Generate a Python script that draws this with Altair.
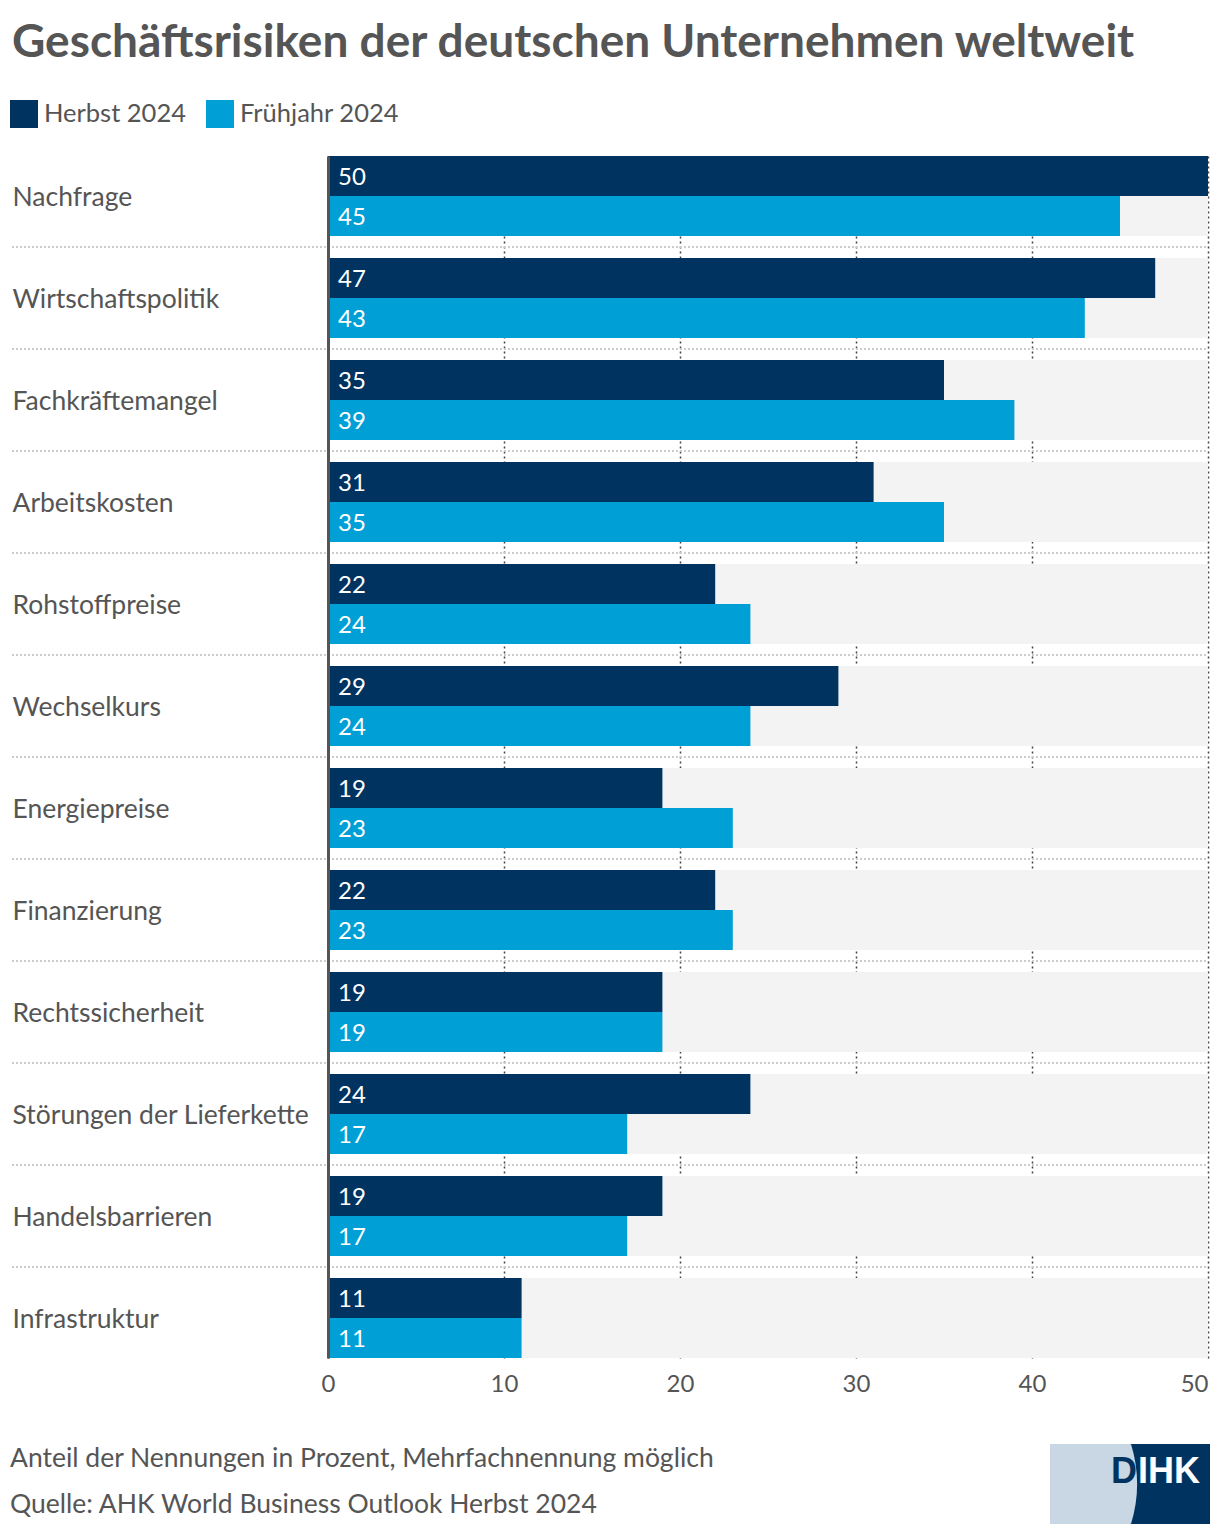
import math
import altair as alt
import pandas as pd

categories = ["Nachfrage", "Wirtschaftspolitik", "Fachkräftemangel", "Arbeitskosten",
              "Rohstoffpreise", "Wechselkurs", "Energiepreise", "Finanzierung",
              "Rechtssicherheit", "Störungen der Lieferkette", "Handelsbarrieren", "Infrastruktur"]
herbst_2024 = [50, 47, 35, 31, 22, 29, 19, 22, 19, 24, 19, 11]
fruehjahr_2024 = [45, 43, 39, 35, 24, 24, 23, 23, 19, 17, 17, 11]
series_names = ["Herbst 2024", "Frühjahr 2024"]
series_colors = ["#00335f", "#009fd6"]
x_ticks = [0, 10, 20, 30, 40, 50]

title_text = "Geschäftsrisiken der deutschen Unternehmen weltweit"
note_text = "Anteil der Nennungen in Prozent, Mehrfachnennung möglich"
source_text = "Quelle: AHK World Business Outlook Herbst 2024"

FONT = "Lato"
GREY = "#555555"

rows = []
for c, h, f in zip(categories, herbst_2024, fruehjahr_2024):
    rows.append({"cat": c, "series": series_names[0], "value": h})
    rows.append({"cat": c, "series": series_names[1], "value": f})
df = pd.DataFrame(rows)
bg = pd.DataFrame({"cat": categories, "full": [max(x_ticks)] * len(categories)})
sep = pd.DataFrame({"cat": categories[:-1]})
one = pd.DataFrame({"a": [0]})

W, H = 880, 1202
y_scale = alt.Scale(domain=categories, paddingInner=22 / 102, paddingOuter=0)
x_scale = alt.Scale(domain=[0, 50], nice=False)

y_enc = alt.Y("cat:N", scale=y_scale, sort=categories,
              axis=alt.Axis(title=None, labelAlign="left", labelPadding=316, labelFontSize=26.5,
                            labelColor=GREY, labelFont=FONT, ticks=False, domainColor=GREY,
                            domainWidth=3, grid=False, labelLimit=0, zindex=1, labelOffset=2))

x_axis = alt.Axis(title=None, values=x_ticks, grid=True, gridDash=[2, 3], gridColor="#444444",
                  gridWidth=1.5, domain=False, ticks=False, labelFontSize=24, labelColor=GREY,
                  labelFont=FONT, labelPadding=14, labelFlush=False,
                  labelAlign={"condition": {"test": "datum.value == 50", "value": "right"},
                              "value": "center"})

background = alt.Chart(bg).mark_bar(color="#f3f3f3").encode(
    x=alt.X("full:Q", scale=x_scale, axis=x_axis),
    y=y_enc,
)

bars = alt.Chart(df).mark_bar().encode(
    x=alt.X("value:Q", scale=x_scale),
    y=alt.Y("cat:N", sort=categories),
    yOffset=alt.YOffset("series:N", sort=series_names, scale=alt.Scale(paddingInner=0, paddingOuter=0)),
    color=alt.Color("series:N", sort=series_names,
                    scale=alt.Scale(domain=series_names, range=series_colors),
                    legend=alt.Legend(orient="none", legendX=-318, legendY=-56, direction="horizontal",
                                      title=None, symbolType="square", symbolSize=784,
                                      labelFontSize=25.5, labelColor=GREY, labelFont=FONT,
                                      symbolStrokeWidth=0, symbolOpacity=1, columnPadding=20,
                                      labelOffset=6, padding=0)),
)

labels = alt.Chart(df).mark_text(align="left", baseline="middle", dx=10, dy=2, color="white",
                                 fontSize=24, font=FONT).encode(
    x=alt.datum(0),
    y=alt.Y("cat:N", sort=categories),
    yOffset=alt.YOffset("series:N", sort=series_names),
    text="value:Q",
)

separators = alt.Chart(sep).mark_rule(color="#cccccc", strokeDash=[2, 2], strokeWidth=2,
                                      yOffset=11).encode(
    y=alt.Y("cat:N", sort=categories, bandPosition=1),
    x=alt.value(-316),
    x2=alt.value(W),
)

title = alt.Chart(one).mark_text(text=title_text, align="left", baseline="alphabetic", fontSize=46,
                                 fontWeight="bold", font=FONT, color=GREY).encode(
    x=alt.value(-316), y=alt.value(57 - 156))

note = alt.Chart(one).mark_text(text=note_text, align="left", baseline="alphabetic", fontSize=26.5,
                                font=FONT, color=GREY).encode(
    x=alt.value(-318), y=alt.value(1467 - 156))

source = alt.Chart(one).mark_text(text=source_text, align="left", baseline="alphabetic", fontSize=26.5,
                                  font=FONT, color=GREY).encode(
    x=alt.value(-318), y=alt.value(1513 - 156))

# DIHK logo
logo_light = alt.Chart(one).mark_rect(color="#c9d6e3").encode(
    x=alt.value(1050 - 328), x2=alt.value(1210 - 328), y=alt.value(1444 - 156), y2=alt.value(1524 - 156))
logo_dark = alt.Chart(one).mark_rect(color="#00335f").encode(
    x=alt.value(1130 - 328), x2=alt.value(1210 - 328), y=alt.value(1444 - 156), y2=alt.value(1524 - 156))
ang = math.asin(40 / 136)
logo_arc = alt.Chart(one).mark_arc(color="#c9d6e3").encode(
    theta=alt.value(math.pi / 2 - ang), theta2=alt.value(math.pi / 2 + ang),
    radius=alt.value(136), radius2=alt.value(60),
    x=alt.value(1001 - 328), y=alt.value(1484 - 156))
logo_d = alt.Chart(one).mark_text(text="D", align="left", baseline="alphabetic", fontSize=36,
                                  fontWeight="bold", font="Liberation Sans", color="#00335f").encode(
    x=alt.value(1111 - 328), y=alt.value(1483 - 156))
logo_ihk = alt.Chart(one).mark_text(text="IHK", align="left", baseline="alphabetic", fontSize=36,
                                    fontWeight="bold", font="Liberation Sans", color="white").encode(
    x=alt.value(1138 - 328), y=alt.value(1483 - 156))

chart = alt.layer(
    background, separators, bars, labels, title, note, source,
    logo_light, logo_dark, logo_arc, logo_d, logo_ihk,
).properties(
    width=W, height=H,
    autosize=alt.AutoSizeParams(type="none"),
    padding={"left": 328, "top": 156, "right": 12, "bottom": 178},
    background="white",
).configure_view(stroke=None)

chart.save("out.html", embed_options={"renderer": "svg", "actions": False})
